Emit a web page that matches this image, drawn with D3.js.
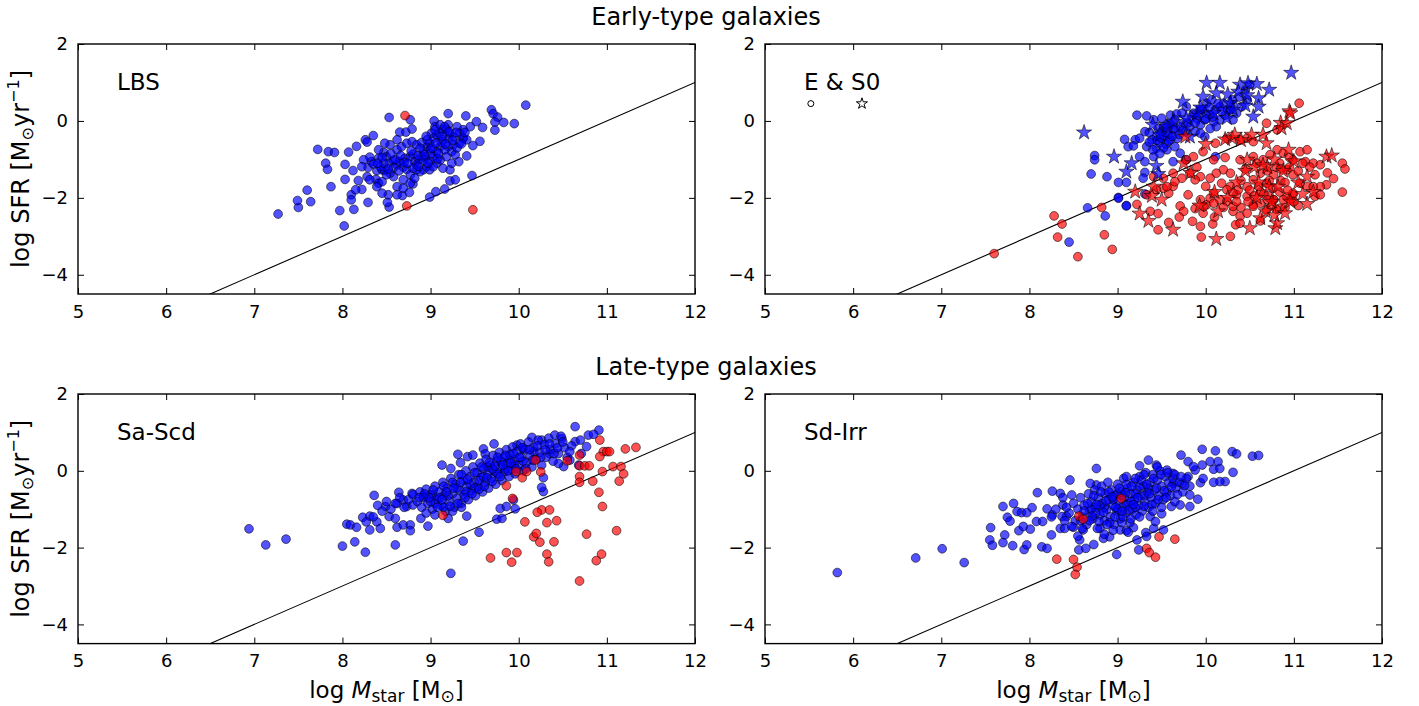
<!DOCTYPE html>
<html><head><meta charset="utf-8">
<script src="https://cdn.jsdelivr.net/npm/d3@7/dist/d3.min.js"></script>
<style>body{margin:0;background:#fff}svg{display:block;font-family:"DejaVu Sans",sans-serif}</style>
</head><body><svg id="c" width="1419" height="706"></svg>
<script>
// ---------------- DATA ----------------
const xTicks = [5,6,7,8,9,10,11,12];
const yTicks = [2,0,-2,-4];
const xDomain = [5,12];
const yDomain = [-4.5,2];
const rowTitles = ["Early-type galaxies","Late-type galaxies"];
const panelNames = ["LBS","E & S0","Sa-Scd","Sd-Irr"];
const refLineX = [5,12];
const refLineY = [-6,1];

const lbsBlue = [[7.27,-2.42],[7.50,-2.25],[7.49,-2.07],[7.64,-2.10],[7.60,-1.80],[7.72,-0.74],[7.84,-0.80],[7.91,-0.82],[7.81,-1.10],[7.83,-1.26],[7.87,-1.71],[8.02,-2.73],[7.97,-2.33],[8.13,-2.30],[8.10,-1.92],[8.10,-2.05],[8.03,-1.52],[8.07,-0.81],[8.16,-0.66],[8.03,-1.13],[8.12,-1.29],[8.18,-1.55],[8.22,-1.78],[8.15,-1.79],[8.29,-2.12],[8.26,-0.49],[8.35,-0.38],[8.28,-0.55],[8.53,0.09],[8.77,0.03],[8.65,-0.29],[8.72,-0.29],[8.79,-0.21],[8.53,-2.24],[8.51,-2.12],[8.52,-1.92],[8.68,-1.94],[8.76,-1.86],[8.80,-1.64],[8.99,-1.98],[9.06,-1.84],[9.16,-1.77],[9.22,-1.56],[9.28,-1.53],[9.47,-1.42],[9.20,0.19],[9.40,0.13],[9.59,-0.17],[9.69,0.29],[9.71,0.19],[9.76,0.10],[9.73,-0.03],[9.73,-0.24],[9.83,-0.04],[9.95,-0.07],[10.08,0.41],[9.52,-0.02],[9.45,-0.15],[9.37,-0.23],[9.04,0.00],[9.05,-0.15],[9.20,-0.10],[9.56,-0.53],[9.48,-0.64],[9.41,-0.91],[9.37,-0.45],
[8.29,-1.21],[8.39,-1.29],[8.45,-1.27],[8.48,-1.29],[8.38,-1.52],[8.41,-1.62],[8.45,-1.58],[8.33,-1.06],[8.41,-0.97],[8.47,-0.82],[8.50,-0.93],[8.53,-1.10],[8.58,-1.03],[8.62,-1.14],[8.65,-1.06],[8.69,-1.20],[8.73,-1.26],[8.71,-0.97],[8.77,-0.93],[8.80,-0.86],[8.82,-1.06],[8.84,-1.14],[8.87,-1.01],[8.90,-0.93],[8.92,-0.78],[8.96,-0.67],[8.99,-0.58],[9.03,-0.45],[9.07,-0.36],[9.10,-0.32],[9.14,-0.23],[9.18,-0.22],[9.22,-0.32],[9.26,-0.41],[9.30,-0.15],[9.33,-0.32],[9.37,-0.45],[9.14,-0.49],[9.11,-0.67],[9.07,-0.80],[9.03,-0.93],[8.99,-1.06],[8.96,-1.19],[8.92,-1.27],[8.88,-1.32],[8.84,-1.27],[8.77,-1.40],[8.69,-1.53],[8.62,-1.71],[8.58,-1.45],[8.54,-1.36],[8.50,-1.40],[8.43,-1.19],[8.35,-1.12],[8.62,-0.75],[8.67,-0.67],[8.73,-0.58],[8.79,-0.54],[8.84,-0.62],[8.90,-0.56],[8.96,-0.49],[9.01,-0.32],[9.05,-0.23],[9.11,-0.10],[9.16,-0.15],[9.20,-0.67],[9.24,-0.80],[9.28,-0.88],[9.32,-1.06],[9.22,-1.27],[9.14,-1.23],[9.07,-1.10],[8.99,-1.27],[8.94,-0.93],[8.88,-0.71],[8.80,-1.23],[9.03,-1.19],[9.11,-1.01],[9.18,-0.93],[9.26,-0.62],[9.33,-0.58],[9.41,-0.49],[8.69,-1.75],[8.77,-1.62],[8.82,-1.49],[8.62,-0.49],[8.54,-0.62],[8.48,-0.58],[8.41,-0.75],[8.31,-0.94],[8.24,-1.01],[8.22,-1.19],[8.28,-1.45],[8.31,-1.53],[8.39,-1.71],[8.45,-1.88],[8.62,-1.92],
[8.92,-1.02],[9.00,-0.85],[9.08,-0.98],[9.16,-0.75],[9.12,-0.55],[9.20,-0.45],[9.00,-0.72],[8.86,-0.90],[8.70,-1.08],[8.58,-1.22],[8.47,-1.10],[8.95,-0.40],[9.30,-0.70],[9.24,-1.10],
[8.60,-1.00],[8.66,-0.90],[8.74,-1.10],[8.78,-0.78],[8.86,-1.18],[8.93,-0.88],[8.97,-1.10],[9.02,-0.70],[9.06,-0.58],[9.09,-0.85],[9.13,-0.40],[9.17,-0.60],[9.21,-0.28],[9.25,-0.50],[9.29,-0.30],[9.35,-0.60],[9.39,-0.30],[8.55,-0.85],[8.52,-1.25],[8.64,-1.30],[8.40,-1.10],[8.45,-0.95]];
const lbsRed = [[8.71,0.14],[8.73,-2.21],[9.48,-2.31]];

const es0BlueCircle = [[9.22,0.15],[9.33,0.13],[9.41,0.03],[9.50,0.07],[9.60,0.15],[9.67,0.18],[9.31,-0.28],[9.20,-0.49],[9.25,-0.45],[9.08,-0.48],[9.12,-0.67],[9.18,-0.65],[8.74,-0.90],[8.74,-1.01],[8.70,-1.38],[8.88,-1.45],[9.01,-1.60],[9.10,-1.60],[8.66,-2.26],[8.86,-2.47],[9.10,-2.20],[9.01,-1.99],[9.31,-1.34],[9.29,-1.49],[9.25,-0.93],[9.31,-1.06],[9.41,-0.93],[9.44,-0.71],[9.48,-0.58],[9.52,-0.41],[9.60,-0.49],[9.65,-0.67],[9.71,-0.84],[9.77,-1.01],[9.56,-0.75],[9.63,-1.06],[9.50,-0.28],[9.56,-0.10],[9.63,-0.23],[9.71,-0.15],[9.77,-0.28],[9.82,-0.15],[9.88,-0.28],[9.94,-0.10],[9.99,0.03],[10.05,0.16],[10.11,0.29],[10.16,0.37],[10.20,0.46],[10.28,0.29],[10.31,0.42],[10.35,0.20],[10.41,0.37],[10.47,0.55],[10.01,0.46],[10.07,0.55],[9.94,0.29],[9.86,0.20],[9.78,0.37],[10.16,0.03],[10.12,-0.15],[10.09,-0.02],[10.31,0.03],[9.99,-0.41],[9.94,-0.32],[9.65,0.03],[9.73,0.20],[9.60,-0.10],[9.52,-0.15],[9.44,-0.41],[9.39,-0.49],[9.33,-0.67],[10.11,-0.93],[8.45,-3.15],[9.01,-2.01],[9.10,-2.21],[9.31,-1.90],[10.45,0.80],[10.50,0.95],[10.38,0.62],[9.58,-0.35],[9.68,-0.45],[9.46,-0.20],[9.36,-0.30],[9.55,-0.60],[9.75,-0.05],[9.90,0.05],[10.00,0.20],[10.22,0.15],[10.05,-0.20],
[9.45,-0.50],[9.50,-0.45],[9.55,-0.30],[9.58,-0.52],[9.62,-0.40],[9.66,-0.20],[9.70,-0.35],[9.74,-0.25],[9.80,-0.05],[9.84,0.10],[9.88,-0.05],[9.92,0.15],[9.96,0.30],[10.00,0.05],[10.04,0.35],[10.08,0.10],[10.14,0.45],[10.18,0.25],[10.25,0.30],[10.30,0.55],[9.52,-0.70],[9.48,-0.85],[9.40,-0.75],[9.36,-0.55]];
const es0RedCircle = [[7.60,-3.45],[8.28,-2.47],[8.37,-2.68],[8.32,-3.02],[8.55,-3.53],[8.82,-2.25],[8.85,-2.96],[8.94,-3.34],[9.22,-2.17],[9.37,-2.35],[9.46,-2.41],[9.58,-2.64],[9.46,-2.83],[9.71,-2.21],[9.75,-2.35],[9.85,-2.61],[9.95,-3.02],[9.94,-2.74],[10.08,-2.68],[10.28,-3.00],[10.34,-2.70],[9.80,-1.92],[9.58,-1.88],[9.52,-1.75],[9.44,-1.79],[9.63,-1.70],[9.94,-2.05],[10.01,-2.18],[10.05,-2.01],[9.97,-2.40],[10.16,-2.05],[10.24,-2.09],[10.31,-2.35],[10.39,-2.48],[10.47,-2.40],[10.54,-2.18],[10.62,-2.14],[10.69,-2.31],[10.77,-2.05],[10.84,-2.27],[10.96,-2.05],[10.99,-1.92],[11.15,-1.70],[11.24,-1.96],[11.30,-1.92],[11.37,-1.66],[10.47,-1.96],[10.35,-1.92],[10.39,-2.66],[10.09,-1.88],[10.28,-1.70],
[11.06,0.46],[10.81,-0.23],[10.69,-0.06],[10.54,-0.54],[10.47,-0.45],[10.39,-0.49],[10.24,-0.45],[10.11,-0.58],[9.97,-0.80],[9.86,-0.93],[9.78,-1.01],[10.09,-1.01],[10.20,-1.27],[10.28,-1.36],[10.39,-1.01],[10.54,-0.93],[10.65,-1.01],[10.73,-0.88],[10.81,-0.75],[10.88,-0.84],[10.99,-1.01],[11.07,-0.80],[11.15,-0.75],[11.13,-1.06],[11.22,-1.10],[11.30,-1.14],[11.24,-1.40],[11.30,-1.71],[11.22,-1.71],[11.07,-1.62],[10.99,-1.40],[10.92,-1.27],[10.84,-1.10],[10.77,-1.40],[10.69,-1.62],[10.62,-1.36],[10.54,-1.53],[10.47,-1.71],[10.37,-1.79],[10.31,-1.88],[10.24,-1.79],[10.18,-1.62],[10.12,-1.36],[10.05,-1.49],[9.94,-1.45],[9.88,-1.53],[9.82,-1.36],[9.73,-1.49],[9.65,-1.58],[9.56,-1.71],[9.52,-1.49],[9.63,-1.36],[9.41,-1.45],[9.33,-1.92],[9.98,-2.22],[10.09,-2.14],[10.31,-2.22],[10.54,-2.22],[10.77,-2.05],[10.92,-1.97],[10.99,-1.88],[11.55,-1.10],[11.58,-1.25],[11.55,-1.85],[11.45,-1.50],[11.38,-1.35],[11.18,-1.20],[10.62,-1.85],[10.72,-1.95],[10.85,-1.55],[10.95,-1.20],[10.58,-1.10],[10.70,-1.30],[10.80,-1.20],[10.90,-1.60],[10.40,-1.55],[10.50,-1.80],[10.20,-2.25],[10.10,-2.50],[9.88,-2.28],[9.70,-2.50],[10.62,-2.60],[10.75,-2.20],[10.90,-2.25],[11.05,-2.20],[10.22,-0.95],[9.90,-1.20],[10.00,-1.70],[10.45,-1.25],
[10.60,-1.70],[10.66,-1.90],[10.72,-1.55],[10.76,-1.75],[10.84,-1.85],[10.88,-2.05],[10.93,-1.80],[11.00,-2.10],[10.55,-1.95],[10.48,-2.10],[10.40,-2.25],[10.35,-2.10],[10.80,-2.30],[10.70,-2.05],[11.05,-1.30],[11.10,-1.10],[10.95,-0.95],[10.85,-1.25]];
const es0BlueStar = [[10.97,1.25],[10.01,0.99],[10.16,0.99],[10.39,0.94],[10.48,0.98],[10.58,0.96],[10.72,0.81],[9.74,0.50],[8.62,-0.30],[10.25,0.69],[10.37,0.76],[10.47,0.67],[10.60,0.59],[10.60,0.37],[10.54,0.11],[8.96,-0.93],[9.10,-1.32],[9.16,-1.10],[9.44,-1.17],[9.46,-1.38],[9.78,0.07],[9.90,0.20],[9.94,0.35],[10.09,0.20],[10.28,0.46],[10.31,0.29],[9.97,0.63],[9.56,-0.15],[9.63,-0.02],[9.82,-0.41],[10.12,0.72],[10.24,0.07],[9.48,-0.35],[9.40,-0.10],[10.45,0.40]];
const es0RedStar = [[9.20,-1.84],[9.25,-2.41],[9.39,-1.95],[9.41,-1.71],[9.63,-2.83],[9.75,-1.10],[9.83,-1.35],[10.12,-3.07],[10.14,-2.35],[10.22,-0.48],[10.30,-0.45],[10.33,-0.36],[10.47,-1.01],[10.50,-2.79],[10.52,-0.36],[10.55,-1.20],[10.60,-1.60],[10.62,-2.53],[10.65,-0.36],[10.69,-0.58],[10.70,-1.20],[10.72,-1.70],[10.75,-2.10],[10.79,-2.79],[10.81,-2.66],[10.82,-1.71],[10.85,-0.05],[10.86,-0.19],[10.88,-1.30],[10.90,-2.40],[10.92,-0.06],[10.94,-0.75],[10.95,0.25],[10.96,0.20],[10.96,-2.10],[11.00,-1.05],[11.05,-1.60],[11.15,-2.16],[11.15,-1.45],[11.22,-1.85],[11.37,-0.93],[11.43,-0.90],[9.77,-0.41],[10.00,-0.60],[10.40,-0.50],[10.45,-1.30],[10.35,-1.60],[10.25,-2.00],[10.58,-2.00],[10.68,-2.35],[10.78,-2.45],[10.10,-1.85],[9.93,-2.20],[9.50,-2.05],[9.35,-2.60],[10.78,-1.00],[10.65,-1.15],[11.10,-1.90]];
const es0LegendCircle = [[5.52,0.45]];
const es0LegendStar = [[6.10,0.45]];

const sascdBlue = [[6.94,-1.51],[7.13,-1.93],[7.36,-1.78],[8.00,-1.96],[8.14,-1.85],[8.26,-2.12],[8.60,-1.93],[8.36,-0.64],[8.05,-1.39],[8.09,-1.41],[8.16,-1.47],[8.23,-1.21],[8.31,-1.18],[8.27,-1.33],[8.31,-1.54],[8.39,-1.33],[8.43,-1.50],[8.49,-0.93],[8.53,-1.19],[8.60,-1.24],[8.62,-1.47],[8.69,-1.41],[8.77,-1.41],[8.77,-1.56],[8.64,-0.56],[8.73,-0.93],[8.80,-0.89],[8.89,-1.24],[8.97,-1.44],[8.62,-0.85],[8.69,-0.76],[8.79,-0.59],[8.92,-0.66],[9.03,-0.63],[9.13,0.15],[9.23,0.06],[9.31,0.43],[9.34,0.21],[9.42,0.37],[9.48,0.41],[9.60,0.57],[9.62,0.44],[9.72,0.70],[9.20,-1.24],[9.37,-1.83],[9.23,-2.67],[9.41,-1.18],[9.55,-1.60],[9.75,-1.26],[9.81,-1.24],[9.79,-0.98],[9.86,-0.93],[9.96,-0.99],[9.94,-0.76],[10.28,-0.54],[10.26,-0.43],[10.28,-0.18],[10.15,0.87],[10.26,0.80],[10.41,0.93],[10.49,0.84],[10.64,1.15],[10.64,0.76],[10.79,0.93],[10.91,1.06],[10.77,0.63],[10.51,0.11],[10.58,0.28],[10.45,0.19],[9.98,0.67],[10.05,0.58],[10.17,0.50],[10.35,0.45],[10.71,0.45],[10.68,0.15],
[8.75,-0.75],[8.80,-0.62],[8.85,-0.80],[8.88,-0.55],[8.90,-0.95],[8.92,-0.70],[8.95,-0.48],[8.97,-0.85],[9.00,-0.62],[9.02,-1.00],[9.05,-0.40],[9.07,-0.75],[9.10,-0.55],[9.12,-0.90],[9.14,-0.30],[9.15,-0.65],[9.17,-1.05],[9.19,-0.45],[9.21,-0.80],[9.23,-0.20],[9.25,-0.60],[9.27,-0.95],[9.28,-0.35],[9.30,-0.72],[9.32,-0.10],[9.33,-0.50],[9.35,-0.85],[9.37,-0.25],[9.38,-0.62],[9.40,0.00],[9.41,-0.40],[9.43,-0.75],[9.45,-0.15],[9.46,-0.52],[9.48,0.10],[9.49,-0.30],[9.51,-0.65],[9.53,-0.05],[9.54,-0.42],[9.56,0.20],[9.57,-0.18],[9.59,-0.55],[9.60,0.05],[9.62,-0.30],[9.63,0.30],[9.65,-0.08],[9.66,-0.45],[9.68,0.15],[9.69,-0.20],[9.71,0.40],[9.72,0.00],[9.74,-0.35],[9.75,0.25],[9.77,-0.10],[9.78,0.48],[9.80,0.10],[9.81,-0.25],[9.83,0.35],[9.84,-0.02],[9.86,0.55],[9.87,0.18],[9.89,-0.15],[9.90,0.42],[9.92,0.05],[9.93,0.62],[9.95,0.28],[9.96,-0.08],[9.98,0.50],[10.00,0.15],[10.02,0.70],[10.03,0.35],[10.05,0.00],[10.07,0.55],[10.09,0.22],[10.11,0.75],[10.13,0.40],[10.15,0.10],[10.17,0.62],[10.20,0.30],[10.22,0.80],[10.24,0.48],[10.26,0.15],[10.29,0.68],[10.31,0.35],[10.34,0.85],[10.36,0.55],[10.39,0.25],[10.42,0.70],[10.45,0.45],[10.48,0.90],[10.52,0.60],[10.55,0.35],
[9.05,-0.85],[9.15,-0.40],[9.25,-0.30],[9.35,-0.10],[9.45,-0.35],[9.55,-0.25],[9.65,0.10],[9.75,-0.05],[9.85,0.05],[9.95,0.15],[10.05,0.25],[9.50,-0.45],[9.60,-0.15],[9.70,0.05],[9.80,0.25],[9.90,0.30],[9.40,-0.55],[9.30,-0.45],[9.20,-0.65],[9.10,-0.70],[9.00,-0.80],[8.95,-1.10],[9.05,-1.15],[9.15,-0.95],[9.25,-1.05],[9.35,-0.95],[8.70,-0.95],[8.65,-0.70],[8.60,-0.85],[8.55,-1.00],[8.50,-0.80],[8.45,-1.05],[8.40,-0.90],[8.35,-1.20],
[9.08,-0.95],[9.13,-0.75],[9.18,-0.55],[9.22,-0.92],[9.26,-0.45],[9.31,-0.85],[9.34,-0.30],[9.39,-0.70],[9.42,-0.22],[9.47,-0.60],[9.50,-0.05],[9.55,-0.48],[9.58,0.10],[9.61,-0.40],[9.64,-0.18],[9.67,0.22],[9.70,-0.28],[9.73,0.12],[9.76,0.35],[9.79,-0.15],[9.82,0.15],[9.85,0.40],[9.88,0.00],[9.91,0.20],[9.94,0.45],[9.97,0.05],[10.01,0.35],[10.04,0.60],[10.08,0.05],[10.12,0.55],[10.16,0.28],[10.21,0.65],[10.25,0.35],[10.30,0.55],[10.35,0.70],[10.40,0.45],[10.44,0.60],[10.50,0.75],[8.98,-0.70],[8.93,-0.60],[8.87,-0.70],[9.03,-0.50],[10.60,0.65],[10.58,0.50],[10.70,0.80],[10.85,0.95]];
const sascdRed = [[9.14,-1.16],[9.86,-0.39],[9.97,-0.02],[10.04,-0.18],[10.09,-0.02],[10.19,0.28],[10.25,-0.03],[10.55,0.26],[9.93,-0.72],[10.92,0.80],[10.69,0.41],[10.96,0.50],[11.00,0.50],[11.03,0.50],[11.21,0.57],[11.33,0.61],[10.92,0.37],[10.69,0.13],[10.75,0.13],[10.80,0.13],[10.95,-0.02],[11.07,0.11],[11.16,0.11],[11.19,-0.08],[11.14,-0.27],[10.84,-0.27],[10.69,-0.15],[10.69,-0.30],[10.91,-0.56],[10.95,-0.93],[11.11,-1.56],[10.77,-1.65],[10.94,-2.17],[10.88,-2.34],[10.69,-2.87],[10.26,-1.02],[10.35,-1.02],[10.21,-1.08],[10.07,-1.33],[10.43,-1.30],[10.32,-1.35],[10.17,-1.72],[10.20,-1.63],[10.24,-1.86],[10.40,-1.85],[10.32,-2.17],[10.34,-2.37],[9.68,-2.27],[9.86,-2.13],[9.92,-2.38],[9.98,-2.13]];

const sdirrBlue = [[5.82,-2.65],[6.71,-2.27],[7.01,-2.03],[7.26,-2.39],[7.56,-1.48],[7.55,-1.80],[7.58,-1.94],[7.70,-0.93],[7.82,-0.85],[7.75,-1.21],[7.78,-1.31],[7.72,-1.67],[7.70,-1.87],[7.81,-1.95],[7.86,-1.06],[7.91,-1.09],[7.97,-1.09],[8.03,-0.96],[7.88,-1.56],[7.93,-1.45],[7.94,-2.05],[7.97,-1.93],[8.01,-1.52],[8.09,-0.57],[8.08,-1.32],[8.14,-1.98],[8.20,-2.02],[8.25,-1.67],[8.26,-0.53],[8.20,-0.99],[8.26,-1.15],[8.15,-1.32],[8.35,-0.59],[8.38,-0.89],[8.46,-0.24],[8.42,-1.19],[8.35,-1.50],[8.40,-1.50],[8.50,-1.47],[8.56,-2.06],[8.57,-1.80],[8.61,-1.54],[8.64,-2.02],[8.73,-1.92],[8.76,0.06],[8.84,-1.76],[8.80,-1.50],[8.91,-1.72],[8.99,-2.18],[9.03,-1.54],[9.10,-1.56],[9.18,-1.48],[9.22,-1.80],[9.24,-2.06],[9.32,-1.61],[9.33,-1.71],[9.37,-1.19],[9.50,-1.12],[9.52,-1.54],[9.41,-1.50],[9.43,-1.32],[9.61,-0.93],[9.71,-0.89],[9.82,-0.93],[9.82,-0.63],[9.91,-0.74],[9.72,0.41],[9.96,0.56],[10.11,0.52],[10.30,0.50],[10.35,0.44],[10.31,-0.04],[10.22,-0.28],[10.16,-0.28],[10.09,-0.30],[9.94,-0.31],[9.97,-0.20],[10.09,0.04],[10.16,0.06],[10.05,0.24],[10.14,0.24],[9.96,0.15],[9.88,0.02],[9.80,0.24],[9.86,0.11],[9.80,-0.15],[9.73,-0.33],[9.63,-0.33],[9.63,-0.07],[9.56,0.02],[9.44,0.15],[9.35,0.28],[9.25,0.13],[8.76,-0.37],[8.69,-0.33],[8.48,-0.63],[8.37,-1.19],[10.53,0.38],[10.60,0.40],
[8.45,-1.10],[8.50,-0.85],[8.52,-1.30],[8.55,-1.00],[8.58,-0.70],[8.60,-1.20],[8.62,-0.90],[8.65,-1.40],[8.67,-0.60],[8.68,-1.05],[8.70,-0.80],[8.72,-1.25],[8.74,-0.50],[8.75,-0.95],[8.77,-1.50],[8.78,-0.70],[8.80,-1.15],[8.82,-0.40],[8.83,-0.85],[8.85,-1.30],[8.86,-0.60],[8.88,-1.00],[8.89,-0.30],[8.90,-0.75],[8.92,-1.20],[8.93,-0.50],[8.95,-0.90],[8.96,-1.40],[8.97,-0.65],[8.99,-1.05],[9.00,-0.35],[9.01,-0.80],[9.03,-1.25],[9.04,-0.55],[9.05,-0.95],[9.07,-0.20],[9.08,-0.70],[9.10,-1.10],[9.11,-0.45],[9.12,-0.85],[9.14,-1.35],[9.15,-0.60],[9.17,-1.00],[9.18,-0.30],[9.19,-0.75],[9.21,-1.15],[9.22,-0.50],[9.24,-0.90],[9.25,-0.15],[9.26,-0.65],[9.28,-1.05],[9.29,-0.40],[9.31,-0.80],[9.32,-0.05],[9.34,-0.55],[9.35,-0.95],[9.37,-0.30],[9.38,-0.70],[9.40,-0.10],[9.42,-0.50],[9.43,-0.85],[9.45,-0.25],[9.47,-0.65],[9.48,0.00],[9.50,-0.40],[9.52,-0.75],[9.54,-0.15],[9.56,-0.55],[9.58,-0.30],[9.60,-0.65],[9.63,-0.20],[9.66,-0.45],[9.70,-0.30],[9.74,-0.55],[9.78,-0.20],[9.82,-0.40],
[8.95,-0.75],[9.05,-0.65],[9.15,-0.80],[9.00,-1.00],[9.10,-0.90],[9.20,-0.60],[9.30,-0.65],[8.85,-0.95],[8.75,-1.10],[9.25,-0.40],[9.35,-0.45],[8.90,-0.55],[9.00,-0.60],[9.10,-0.35],[9.20,-0.95],[8.80,-0.90],[8.70,-1.00],[9.05,-1.35],[8.95,-1.55],[8.85,-1.65],[9.12,-1.60],[8.60,-1.50],[8.55,-1.70],[8.48,-1.45],[8.40,-1.30],[8.42,-0.95],[8.38,-0.70],[8.30,-1.00],[8.25,-1.20],
[8.62,-1.05],[8.66,-0.85],[8.71,-1.18],[8.73,-0.65],[8.76,-0.88],[8.79,-1.32],[8.81,-0.55],[8.84,-1.08],[8.87,-0.78],[8.91,-1.35],[8.94,-0.68],[8.98,-0.95],[9.02,-0.45],[9.06,-1.20],[9.09,-0.58],[9.13,-1.02],[9.16,-0.40],[9.18,-0.88],[9.23,-0.70],[9.27,-0.25],[9.30,-0.92],[9.33,-0.35],[9.36,-0.60],[9.39,-0.88],[9.41,-0.20],[9.44,-0.45],[9.46,-0.75],[9.49,-0.10],[9.53,-0.52],[9.57,-0.05],[9.61,-0.42],[9.65,-0.10],[9.68,-0.62],[9.72,-0.15],[9.76,-0.38],[9.05,-1.05],[8.97,-1.20],[8.88,-1.40],[9.15,-1.25],[9.25,-1.20],[8.68,-1.30],[8.58,-1.30],[9.10,-0.15],[9.20,-0.20],[9.30,-0.10],[9.45,0.10],[9.55,-0.70],[9.65,-0.80],[9.40,-1.05],[9.50,-0.95]];
const sdirrRed = [[9.04,-0.72],[8.56,-1.18],[8.61,-1.26],[9.47,-1.72],[9.65,-1.78],[9.33,-2.02],[9.36,-2.13],[9.43,-2.25],[8.31,-2.30],[8.50,-2.31],[8.54,-2.51],[8.52,-2.70]];

// ---------------- LAYOUT ----------------
const svg = d3.select("#c");
const panels = [
  {name:panelNames[0], l:78, r:695, t:44, b:294, left:true, bottom:false,
   layers:[{d:lbsBlue,c:"blue",s:"circle"},{d:lbsRed,c:"red",s:"circle"}]},
  {name:panelNames[1], l:765, r:1382, t:44, b:294, left:false, bottom:false,
   layers:[{d:es0BlueCircle,c:"blue",s:"circle"},{d:es0RedCircle,c:"red",s:"circle"},{d:es0BlueStar,c:"blue",s:"star"},{d:es0RedStar,c:"red",s:"star"}],
   legend:true},
  {name:panelNames[2], l:78, r:695, t:394, b:643.6, left:true, bottom:true,
   layers:[{d:sascdBlue,c:"blue",s:"circle"},{d:sascdRed,c:"red",s:"circle"}]},
  {name:panelNames[3], l:765, r:1382, t:394, b:643.6, left:false, bottom:true,
   layers:[{d:sdirrBlue,c:"blue",s:"circle"},{d:sdirrRed,c:"red",s:"circle"}]}
];
const fills = {blue:"rgb(0,0,255)", red:"rgb(255,0,0)"};
const starPath = d3.symbol().type(d3.symbolStar).size(72)();

panels.forEach((p,i)=>{
  const x = d3.scaleLinear().domain(xDomain).range([p.l,p.r]);
  const y = d3.scaleLinear().domain(yDomain).range([p.b,p.t]);
  const g = svg.append("g");
  const cid = "clip"+i;
  g.append("clipPath").attr("id",cid).append("rect")
    .attr("x",p.l).attr("y",p.t).attr("width",p.r-p.l).attr("height",p.b-p.t);
  const inner = g.append("g").attr("clip-path",`url(#${cid})`);
  inner.append("path")
    .attr("d", d3.line().x(d=>x(d[0])).y(d=>y(d[1]))(refLineX.map((v,k)=>[v,refLineY[k]])))
    .attr("stroke","#000").attr("stroke-width",1.1).attr("fill","none");
  p.layers.forEach(L=>{
    if(L.s==="circle"){
      inner.append("g").selectAll("circle").data(L.d).join("circle")
        .attr("cx",d=>x(d[0])).attr("cy",d=>y(d[1])).attr("r",4.4)
        .attr("fill",fills[L.c]).attr("fill-opacity",0.68)
        .attr("stroke","#000").attr("stroke-opacity",0.55).attr("stroke-width",1);
    } else {
      inner.append("g").selectAll("path").data(L.d).join("path")
        .attr("d",starPath).attr("transform",d=>`translate(${x(d[0])},${y(d[1])})`)
        .attr("fill",fills[L.c]).attr("fill-opacity",0.68)
        .attr("stroke","#000").attr("stroke-opacity",0.55).attr("stroke-width",1);
    }
  });
  if(p.legend){
    g.selectAll(".lc").data(es0LegendCircle).join("circle")
      .attr("cx",d=>x(d[0])).attr("cy",d=>y(d[1])).attr("r",3)
      .attr("fill","none").attr("stroke","#000").attr("stroke-width",1);
    g.selectAll(".ls").data(es0LegendStar).join("path")
      .attr("d",d3.symbol().type(d3.symbolStar).size(38)())
      .attr("transform",d=>`translate(${x(d[0])},${y(d[1])})`)
      .attr("fill","none").attr("stroke","#000").attr("stroke-width",1);
  }
  const bot = d3.axisBottom(x).tickValues(xTicks).tickSizeInner(-6).tickSizeOuter(0).tickPadding(11).tickFormat(d3.format("d"));
  const top = d3.axisTop(x).tickValues(xTicks).tickSizeInner(-6).tickSizeOuter(0).tickFormat("");
  const lft = d3.axisLeft(y).tickValues(yTicks).tickSizeInner(-6).tickSizeOuter(0).tickPadding(10).tickFormat(d=>d<0?"\u2212"+(-d):d);
  const rgt = d3.axisRight(y).tickValues(yTicks).tickSizeInner(-6).tickSizeOuter(0).tickFormat("");
  [[bot,`translate(0,${p.b})`],[top,`translate(0,${p.t})`],[lft,`translate(${p.l},0)`],[rgt,`translate(${p.r},0)`]].forEach(([ax,tr])=>{
    const a = g.append("g").attr("transform",tr).call(ax);
    a.select(".domain").remove();
    a.selectAll("line").attr("stroke","#000").attr("stroke-width",1);
    a.selectAll("text").attr("font-size",18).attr("fill","#000").attr("font-family","DejaVu Sans");
  });
  g.append("rect").attr("x",p.l).attr("y",p.t).attr("width",p.r-p.l).attr("height",p.b-p.t)
    .attr("fill","none").attr("stroke","#000").attr("stroke-width",1.4);
  g.append("text").attr("x",p.l+39).attr("y",p.t+46).attr("font-size",23).text(p.name);
  if(p.left){
    const yl = g.append("text").attr("transform",`translate(29,${(p.t+p.b)/2}) rotate(-90)`)
      .attr("text-anchor","middle").attr("font-size",24);
    yl.append("tspan").text("log SFR [M");
    yl.append("tspan").attr("font-size",16).attr("dy",4).text("\u2299");
    yl.append("tspan").attr("dy",-4).text("yr");
    yl.append("tspan").attr("font-size",16).attr("dy",-10).text("\u22121");
    yl.append("tspan").attr("dy",10).text("]");
  }
  if(p.bottom){
    const xl = g.append("text").attr("x",(p.l+p.r)/2).attr("y",698)
      .attr("text-anchor","middle").attr("font-size",23);
    xl.append("tspan").text("log ");
    xl.append("tspan").attr("font-style","italic").text("M");
    xl.append("tspan").attr("font-size",17).attr("dy",4).text("star");
    xl.append("tspan").attr("dy",-4).text(" [M");
    xl.append("tspan").attr("font-size",17).attr("dy",4).text("\u2299");
    xl.append("tspan").attr("dy",-4).text("]");
  }
});
svg.append("text").attr("x",706).attr("y",25).attr("text-anchor","middle").attr("font-size",24).text(rowTitles[0]);
svg.append("text").attr("x",706).attr("y",375).attr("text-anchor","middle").attr("font-size",24).text(rowTitles[1]);
</script></body></html>
